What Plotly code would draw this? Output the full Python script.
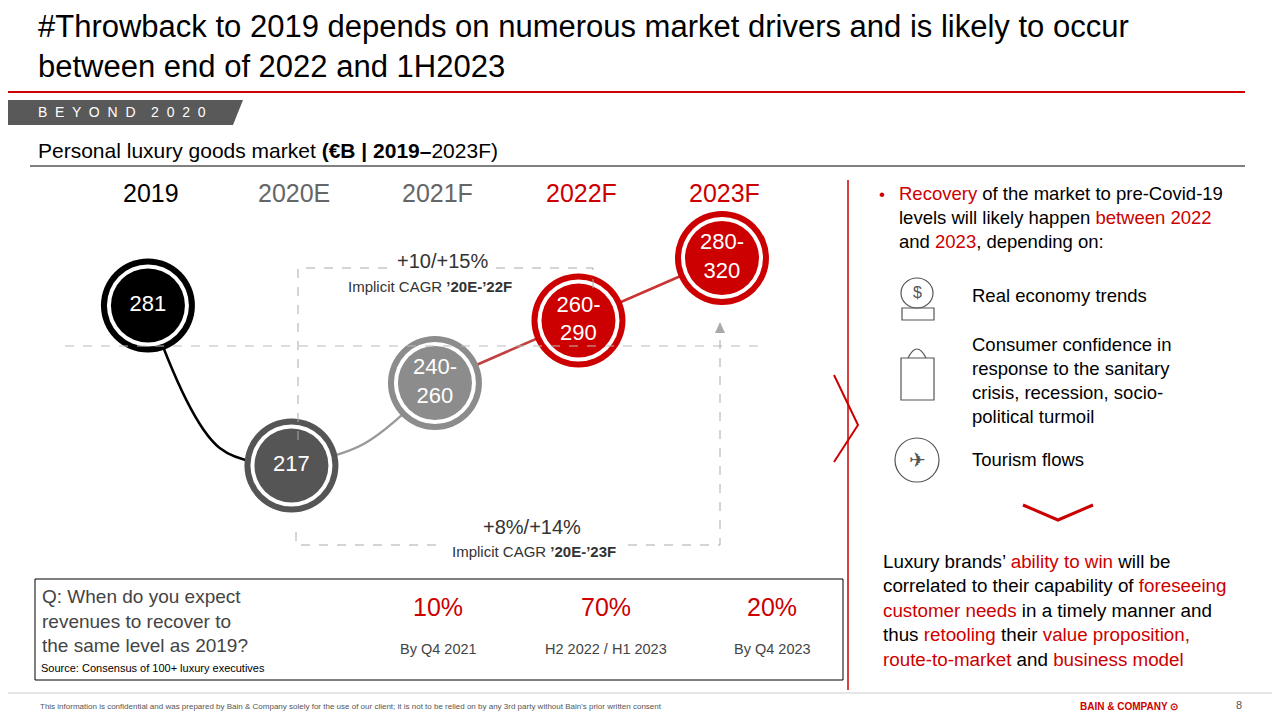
import plotly.graph_objects as go

# data
years = ["2019", "2020E", "2021F", "2022F", "2023F"]
labels = ["281", "217", "240-<br>260", "260-<br>290", "280-<br>320"]
values = [281, 217, 250, 275, 300]
year_colors = ["#000000", "#666666", "#666666", "#cc0000", "#cc0000"]
fill_colors = ["#000000", "#555555", "#8c8c8c", "#cc0000", "#cc0000"]
survey_share = ["10%", "70%", "20%"]
survey_when = ["By Q4 2021", "H2 2022 / H1 2023", "By Q4 2023"]

RED = "#cc0000"
FONT = "Liberation Sans"
xi = list(range(len(years)))

fig = go.Figure()

# connecting curve (spline segments)
seg_colors = ["#000000", "#999999", "#c04040", "#cc3333"]
bends = [25, 8, 0, 0]
for i in range(4):
    fig.add_trace(go.Scatter(
        x=[xi[i], xi[i] + 0.5, xi[i + 1]],
        y=[values[i], (values[i] + values[i + 1]) / 2 - bends[i], values[i + 1]],
        mode="lines", line=dict(color=seg_colors[i], width=2.5, shape="spline"),
        xaxis="x2", yaxis="y2", hoverinfo="skip", showlegend=False))

# bubbles: outer ring, white gap, inner disc
for size, cols in [(94, fill_colors), (82, ["white"] * 5), (74, fill_colors)]:
    fig.add_trace(go.Scatter(
        x=xi, y=values, mode="markers",
        marker=dict(size=size, color=cols, line=dict(width=0)),
        xaxis="x2", yaxis="y2", hoverinfo="skip", showlegend=False))
fig.add_trace(go.Scatter(
    x=xi, y=values, mode="text", text=labels,
    textfont=dict(color="white", size=22, family=FONT),
    xaxis="x2", yaxis="y2", hoverinfo="skip", showlegend=False))

ann = []
def txt(x, y, t, size=14, color="black", xa="left", ya="middle"):
    ann.append(dict(x=x, y=y, text=t, showarrow=False, xref="x", yref="y",
                    xanchor=xa, yanchor=ya, align=xa if xa != "center" else "center",
                    font=dict(size=size, color=color, family=FONT)))

# year headers
year_px = [151, 294, 437, 581, 724]
for yr, c, px in zip(years, year_colors, year_px):
    txt(px, 193, yr, 25, c, "center")

txt(36, 46, "#Throwback to 2019 depends on numerous market drivers and is likely to occur<br>between end of 2022 and 1H2023", 31, "black", ya="middle")
txt(36, 112, "B  E  Y  O  N  D    2  0  2  0", 14, "white")
txt(36, 150, "Personal luxury goods market <b>(€B | 2019–</b>2023F)", 21)

txt(442, 261, "+10/+15%", 20, "#333333", "center")
txt(430, 286, "Implicit CAGR <b>’20E-’22F</b>", 15, "#333333", "center")
txt(532, 527, "+8%/+14%", 20, "#333333", "center")
txt(534, 551, "Implicit CAGR <b>’20E-’23F</b>", 15, "#333333", "center")

txt(40, 621, "Q: When do you expect<br>revenues to recover to<br>the same level as 2019?", 19, "#444444")
txt(39, 668, "Source: Consensus of 100+ luxury executives", 11)
for s, w, px in zip(survey_share, survey_when, [438, 606, 772]):
    txt(px, 607, s, 25, RED, "center")
    txt(px, 649, w, 14.5, "#444444", "center")

R = lambda s: f"<span style='color:{RED}'>{s}</span>"
txt(877, 194, R("•"), 17)
txt(897, 217, R("Recovery") + " of the market to pre-Covid-19<br>levels will likely happen " + R("between 2022") +
    "<br>and " + R("2023") + ", depending on:", 18.5)
txt(970, 295, "Real economy trends", 18.5)
txt(970, 380, "Consumer confidence in<br>response to the sanitary<br>crisis, recession, socio-<br>political turmoil", 18.5)
txt(970, 459, "Tourism flows", 18.5)
txt(881, 610, "Luxury brands’ " + R("ability to win") + " will be<br>correlated to their capability of " + R("foreseeing") +
    "<br>" + R("customer needs") + " in a timely manner and<br>thus " + R("retooling") + " their " + R("value proposition,") +
    "<br>" + R("route-to-market") + " and " + R("business model"), 18.8)

txt(38, 706, "This information is confidential and was prepared by Bain & Company solely for the use of our client; it is not to be relied on by any 3rd party without Bain's prior written consent", 8, "#555555")
txt(1180, 706, "<b>BAIN & COMPANY ⊙</b>", 10, RED, "right")
txt(1244, 705, "8", 11, "#555555", "right")

shapes = [
    dict(type="line", x0=0, x1=1245, y0=92, y1=92, line=dict(color=RED, width=2)),
    dict(type="path", path="M 0 100 L 243 100 L 233 125 L 0 125 Z", fillcolor="#595959", line=dict(width=0)),
    dict(type="line", x0=30, x1=1245, y0=166, y1=166, line=dict(color="black", width=1)),
    dict(type="line", x0=848, x1=848, y0=180, y1=690, line=dict(color=RED, width=1.5)),
    dict(type="path", path="M 834 375 L 858 425 L 834 462", line=dict(color=RED, width=2)),
    dict(type="path", path="M 1023 505 L 1058 520 L 1093 505", line=dict(color=RED, width=3)),
    dict(type="line", x0=65, x1=765, y0=346, y1=346, line=dict(color="#bbbbbb", width=1, dash="dash")),
    dict(type="path", path="M 298 440 L 298 268 L 388 268", line=dict(color="#aaaaaa", width=1, dash="dash")),
    dict(type="path", path="M 496 268 L 593 268 L 593 296", line=dict(color="#aaaaaa", width=1, dash="dash")),
    dict(type="path", path="M 296 532 L 296 545 L 440 545", line=dict(color="#aaaaaa", width=1, dash="dash")),
    dict(type="path", path="M 628 545 L 720 545 L 720 332", line=dict(color="#aaaaaa", width=1, dash="dash")),
    dict(type="path", path="M 715 333 L 720 322 L 725 333 Z", fillcolor="#aaaaaa", line=dict(width=0)),
    dict(type="rect", x0=35, x1=843, y0=579, y1=680, line=dict(color="black", width=1)),
    dict(type="line", x0=0, x1=1280, y0=693, y1=693, line=dict(color="#cccccc", width=1)),
    # icons
    dict(type="circle", x0=901, x1=933, y0=278, y1=308, line=dict(color="#555555", width=1.2)),
    dict(type="rect", x0=902, x1=934, y0=308, y1=320, line=dict(color="#555555", width=1.2)),
    dict(type="rect", x0=901, x1=934, y0=358, y1=400, line=dict(color="#555555", width=1.2)),
    dict(type="path", path="M 908 358 Q 917 340 926 358", line=dict(color="#555555", width=1.2)),
    dict(type="circle", x0=895, x1=939, y0=438, y1=482, line=dict(color="#555555", width=1.2)),
]
txt(917, 292, "$", 16, "#555555", "center")
txt(917, 460, "✈", 20, "#555555", "center")

# ranges shifted by the 8px page margin so pixel coords line up
fig.update_layout(
    width=1280, height=720, margin=dict(l=0, r=0, t=0, b=0),
    plot_bgcolor="white", paper_bgcolor="white",
    xaxis=dict(range=[8, 1288], visible=False, fixedrange=True),
    yaxis=dict(range=[728, 8], visible=False, fixedrange=True),
    xaxis2=dict(range=[-0.975, 7.944], overlaying="x", visible=False),
    yaxis2=dict(range=[112.0, 400.0], overlaying="y", visible=False),
    annotations=ann, shapes=shapes, showlegend=False)

fig.write_html("out.html")
